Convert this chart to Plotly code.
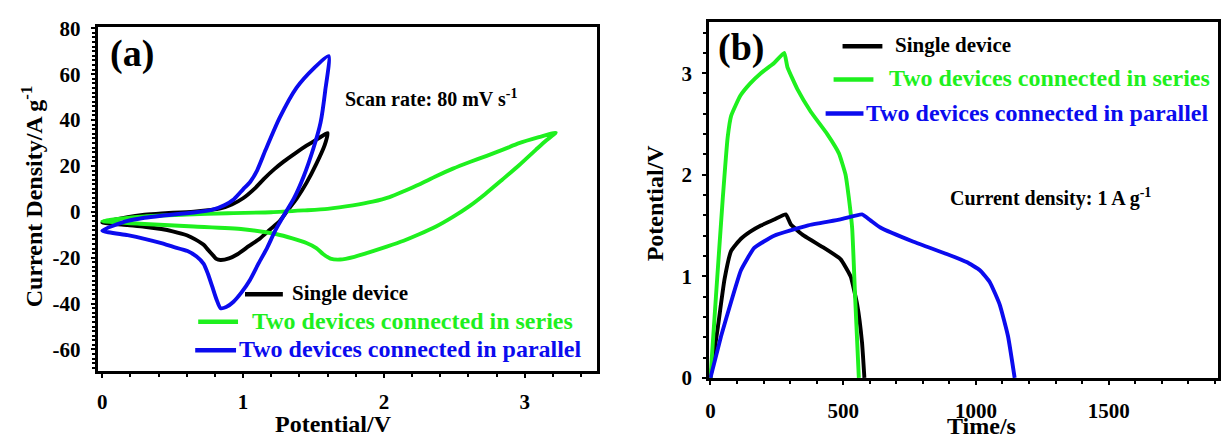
import plotly.graph_objects as go

# ---------------- data: (a) cyclic voltammetry ----------------
single_cv_V = [0, 0.18, 0.3, 0.42, 0.65, 0.84, 0.92, 1.0, 1.08, 1.15, 1.22, 1.29, 1.37, 1.45, 1.53, 1.6,
               1.58, 1.52, 1.45, 1.38, 1.31, 1.26, 1.19, 1.12, 1.04, 0.96, 0.90, 0.84, 0.81, 0.79, 0.75,
               0.72, 0.66, 0.6, 0.5, 0.42, 0.3, 0.18, 0.0]
single_cv_J = [-4.7, -2.3, -1.3, -0.7, 0.1, 1.5, 3.2, 5.9, 10.0, 14.5, 18.5, 22.0, 25.5, 28.8, 31.8, 34.3,
               29.2, 20.9, 12.6, 5.7, 0.1, -4.0, -7.8, -11.6, -15.0, -18.5, -20.3, -21.0, -20.5, -19.2, -16.5,
               -14.4, -12.0, -10.2, -8.5, -7.5, -6.5, -5.8, -4.7]

series_cv_V = [0, 0.3, 0.6, 0.89, 1.2, 1.43, 1.6, 1.78, 1.92, 2.04, 2.15, 2.25, 2.37, 2.49, 2.61, 2.73, 2.85,
               2.96, 3.1, 3.22,
               3.15, 3.08, 2.96, 2.84, 2.72, 2.61, 2.49, 2.37, 2.25, 2.14, 2.02, 1.90, 1.79, 1.69, 1.62,
               1.57, 1.52, 1.45, 1.35, 1.24, 1.0, 0.65, 0.3, 0.0]
series_cv_J = [-4.0, -2.0, -1.2, -0.6, -0.2, 0.6, 1.3, 2.8, 4.4, 6.4, 9.2, 11.9, 15.5, 18.8, 21.7, 24.4, 27.2,
               29.9, 32.5, 34.5,
               31.0, 27.1, 20.3, 14.0, 7.8, 2.6, -2.2, -6.4, -9.8, -12.6, -15.2, -17.6, -19.6, -20.8, -20.4,
               -18.5, -15.8, -13.6, -11.6, -9.8, -7.6, -6.4, -5.3, -4.0]

parallel_cv_V = [0, 0.18, 0.3, 0.42, 0.65, 0.79, 0.87, 0.935, 1.0, 1.05, 1.10, 1.16, 1.26, 1.38, 1.50, 1.607,
                 1.583, 1.55, 1.50, 1.43, 1.36, 1.29, 1.23, 1.17, 1.11, 1.05, 0.99, 0.93, 0.88, 0.84, 0.81,
                 0.78, 0.75, 0.72, 0.67, 0.605, 0.5, 0.42, 0.3, 0.18, 0.0]
parallel_cv_J = [-8.2, -4.0, -2.6, -1.7, -0.3, 1.1, 3.0, 5.5, 9.8, 13.0, 18.1, 27.0, 41.0, 54.1, 62.4, 67.9,
                 52.7, 38.9, 27.8, 15.4, 5.7, -1.5, -8.0, -15.8, -22.5, -29.6, -35.0, -39.3, -41.5, -42.0, -38.0,
                 -32.4, -27.0, -22.7, -19.5, -17.1, -15.2, -13.7, -11.8, -10.2, -8.2]

# ---------------- data: (b) galvanostatic charge-discharge ----------------
single_t = [0, 28, 53, 78, 115, 150, 190, 240, 284, 303, 352, 428, 490, 528, 553, 571, 580]
single_U = [0, 0.5, 0.97, 1.25, 1.37, 1.44, 1.5, 1.56, 1.61, 1.51, 1.40, 1.28, 1.17, 1.0, 0.72, 0.35, 0]

series_t = [0, 21, 46, 65, 78, 113, 150, 190, 240, 278, 290, 328, 378, 440, 484, 509, 521, 534, 545, 559]
series_U = [0, 0.81, 1.75, 2.37, 2.58, 2.78, 2.9, 3.0, 3.1, 3.2, 3.06, 2.84, 2.62, 2.40, 2.21, 2.0, 1.78,
            1.47, 0.8, 0]

parallel_t = [0, 40, 78, 115, 165, 240, 365, 490, 571, 603, 640, 765, 890, 965, 1015, 1053, 1090, 1121, 1146]
parallel_U = [0, 0.41, 0.75, 1.06, 1.28, 1.40, 1.50, 1.56, 1.61, 1.55, 1.48, 1.34, 1.22, 1.14, 1.06, 0.94,
              0.72, 0.41, 0]

series_names = ["Single device", "Two devices connected in series", "Two devices connected in parallel"]
x_ticks_a = [0, 1, 2, 3]
y_ticks_a = [-60, -40, -20, 0, 20, 40, 60, 80]
x_ticks_b = [0, 500, 1000, 1500]
y_ticks_b = [0, 1, 2, 3]

# ---------------- style ----------------
W, H = 1221, 446
BLACK = "#000000"
GREEN = "#1ef01e"
BLUE = "#0b0bee"
FONT = "Liberation Serif"
LW = 3.9

def X(px):
    return px / W

def Y(py):
    return 1 - py / H

def labels(vals):
    return ["<b>%s</b>" % v for v in vals]

fig = go.Figure()
for xs, ys, c, n in [(single_cv_V, single_cv_J, BLACK, series_names[0]),
                     (series_cv_V, series_cv_J, GREEN, series_names[1]),
                     (parallel_cv_V, parallel_cv_J, BLUE, series_names[2])]:
    fig.add_trace(go.Scatter(x=xs, y=ys, mode="lines", name=n, xaxis="x", yaxis="y",
                             line=dict(color=c, width=LW, shape="spline", smoothing=0.6),
                             showlegend=False))
for xs, ys, c, n in [(single_t, single_U, BLACK, series_names[0]),
                     (series_t, series_U, GREEN, series_names[1]),
                     (parallel_t, parallel_U, BLUE, series_names[2])]:
    fig.add_trace(go.Scatter(x=xs, y=ys, mode="lines", name=n, xaxis="x2", yaxis="y2",
                             line=dict(color=c, width=LW, shape="spline", smoothing=0.4),
                             showlegend=False))

tickfont = dict(family=FONT, size=21, color="black", weight="bold")
common = dict(showline=True, linewidth=3, linecolor="black", mirror=True, showgrid=False,
              zeroline=False, ticks="outside", ticklen=4, tickwidth=2, tickcolor="black",
              tickfont=tickfont, tickmode="array")

def minor(d):
    return dict(dtick=d, ticklen=3, tickwidth=2, tickcolor="black", ticks="outside")

fig.update_layout(
    width=W, height=H, margin=dict(l=0, r=0, t=0, b=0),
    paper_bgcolor="white", plot_bgcolor="white",
    font=dict(family=FONT, size=21, color="black", weight="bold"),
    xaxis=dict(domain=[X(94), X(595)], range=[-0.033, 3.51], tickvals=x_ticks_a,
               ticktext=labels(x_ticks_a), minor=minor(0.2),
               ticklabelstandoff=6, anchor="y", **common),
    yaxis=dict(domain=[Y(380), Y(18)], range=[-69.5, 80.5], tickvals=y_ticks_a,
               ticktext=labels(y_ticks_a), minor=minor(2),
               ticklabelstandoff=6, anchor="x", **common),
    xaxis2=dict(domain=[X(708), X(1219)], range=[-5, 1912], tickvals=x_ticks_b,
                ticktext=labels(x_ticks_b), minor=minor(100),
                ticklabelstandoff=8, anchor="y2", **common),
    yaxis2=dict(domain=[Y(387), Y(13)], range=[0, 3.5], tickvals=y_ticks_b,
                ticktext=labels(y_ticks_b), minor=minor(0.2),
                ticklabelstandoff=6, anchor="x2", **common),
)

def txt(px, py, s, size, color="black", xanchor="left", angle=0):
    fig.add_annotation(x=X(px), y=Y(py), xref="paper", yref="paper", text="<b>%s</b>" % s,
                       showarrow=False, xanchor=xanchor, yanchor="middle", textangle=angle,
                       font=dict(family=FONT, size=size, color=color))

# panel labels and notes
txt(129, 46, "(a)", 38, xanchor="center")
txt(740, 39, "(b)", 38, xanchor="center")
txt(340, 93, "Scan rate: 80 mV s<sup>-1</sup>", 20)
txt(948, 197, "Current density: 1 A g<sup>-1</sup>", 20)

# axis titles
txt(331, 436, "Potential/V", 24, xanchor="center")
txt(28, 196, "Current Density/A g<sup>-1</sup>", 24, xanchor="center", angle=-90)
txt(982, 438, "Time/s", 24, xanchor="center")
txt(654, 203, "Potential/V", 24, xanchor="center", angle=-90)

# custom legends
legend_a = [(242, 280, 299, 287, 21, BLACK), (195, 235, 328, 247, 24, GREEN), (192, 233, 358, 234, 24, BLUE)]
legend_b = [(842, 882, 38, 893, 21, BLACK), (833, 873, 73, 887, 24, GREEN), (825, 863, 109, 864, 24, BLUE)]
for spec in (legend_a, legend_b):
    for (x0, x1, yy, tx, fs, col), name in zip(spec, series_names):
        fig.add_shape(type="line", xref="paper", yref="paper", x0=X(x0), x1=X(x1), y0=Y(yy), y1=Y(yy),
                      line=dict(color=col, width=4.5))
        txt(tx, yy - 1, name, fs, color=col)

fig.write_html("out.html")
